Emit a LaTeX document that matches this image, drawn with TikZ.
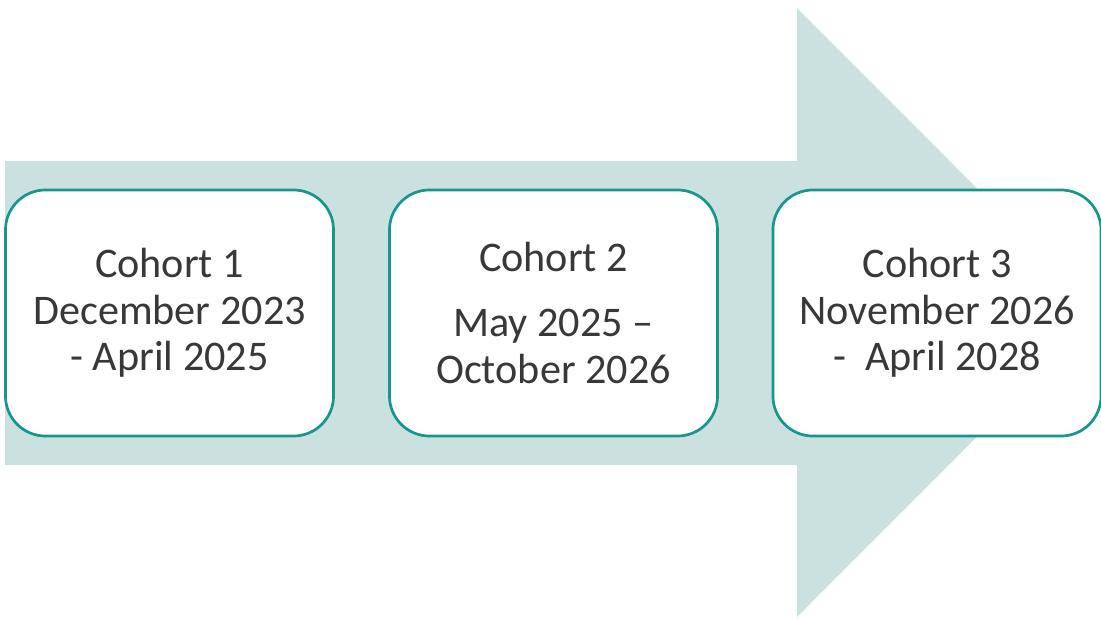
\documentclass[tikz,border=0pt]{standalone}
\usepackage{fontspec}
\setmainfont{Carlito}
\definecolor{arrowfill}{HTML}{CBE1DF}
\definecolor{boxline}{HTML}{16968D}
\definecolor{textgray}{HTML}{383838}

\tikzstyle{cohortbox} = [draw=boxline,line width=2.7*0.025cm,fill=white,rounded corners=1cm,
	minimum width=8.2cm,minimum height=6.15cm,inner sep=0pt,align=center,text=textgray,
	font=\fontsize{30pt}{33pt}\selectfont]

\begin{document}
\begin{tikzpicture}[x=0.025cm,y=-0.025cm]
		\useasboundingbox (0,0) rectangle (1101,620);
		\clip (0,0) rectangle (1101,620);
		% big arrow behind the boxes
		\fill[arrowfill] (5,161) -- (797,161) -- (797,8) -- (1101,312.5) -- (797,617) -- (797,465) -- (5,465) -- cycle;
		\node[cohortbox] (c1) at (169.5,313) {Cohort 1\\December 2023\\- April 2025};
		\node[cohortbox] (c2) at (553.5,313) {Cohort 2\\[13pt]May 2025 --\\October 2026};
		\node[cohortbox] (c3) at (937,313) {Cohort 3\\November 2026\\-~~April 2028};
		\end{tikzpicture}
\end{document}
